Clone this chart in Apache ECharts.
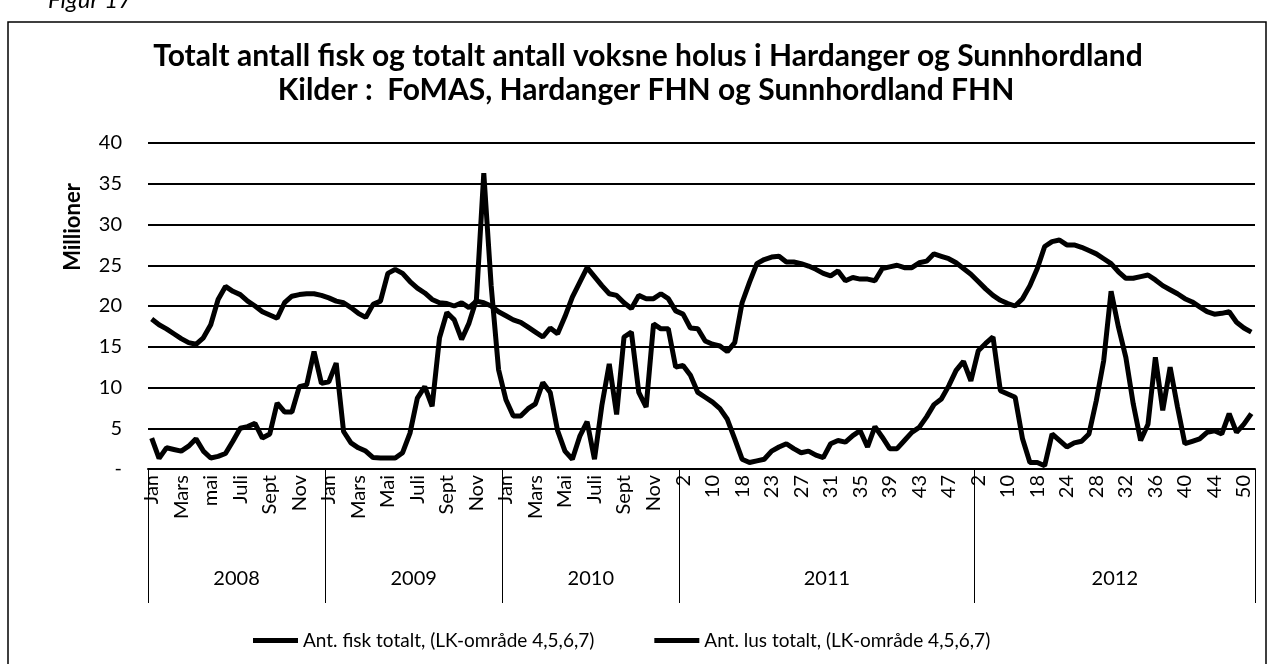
<!DOCTYPE html>
<html>
<head>
<meta charset="utf-8">
<script src="https://cdn.jsdelivr.net/npm/echarts@6/dist/echarts.min.js"></script>
<style>
  html, body { margin: 0; padding: 0; background: #fff; }
  #main { width: 1273px; height: 664px; }
</style>
</head>
<body>
<div id="main"></div>
<script>
// tick labels
var years = ['2008', '2009', '2010', '2011', '2012']
var months2008 = ['Jan', 'Feb', 'Mars', 'April', 'mai', 'Juni', 'Juli', 'Aug', 'Sept', 'Okt', 'Nov', 'Des']
var months = ['Jan', 'Feb', 'Mars', 'April', 'Mai', 'Juni', 'Juli', 'Aug', 'Sept', 'Okt', 'Nov', 'Des']
var weeks2011 = [2, 4, 6, 8, 10, 12, 14, 16, 18, 19, 20, 22, 23, 24, 25, 26, 27, 28, 29, 30, 31, 32, 33, 34, 35, 36, 37, 38, 39, 40, 41, 42, 43, 44, 45, 46, 47, 48, 49, 50]
var weeks2012 = [2, 4, 6, 8, 10, 12, 14, 16, 18, 20, 21, 22, 24, 25, 26, 27, 28, 29, 30, 31, 32, 33, 34, 35, 36, 37, 38, 39, 40, 41, 42, 43, 44, 45, 46, 48, 50, 52]

// Ant. fisk totalt (millioner)
var fisk = [
  18.4, 17.7, 17.2, 16.6, 16.0, 15.5, 15.3, 16.1, 17.7, 20.8, 22.4, 21.8, 21.4, 20.6, 20.0, 19.3, 18.9, 18.5, 20.4, 21.2, 21.4, 21.5, 21.5, 21.3,
  21.0, 20.6, 20.4, 19.8, 19.1, 18.6, 20.2, 20.6, 24.0, 24.5, 24.0, 23.0, 22.2, 21.6, 20.8, 20.4, 20.3, 20.0, 20.4, 19.8, 20.6, 20.4, 20.0, 19.3,
  18.8, 18.3, 18.0, 17.4, 16.8, 16.2, 17.3, 16.6, 18.7, 21.1, 22.9, 24.7, 23.6, 22.5, 21.5, 21.3, 20.4, 19.7, 21.3, 20.9, 20.9, 21.5, 20.9, 19.4,
  19.0, 17.3, 17.2, 15.7, 15.3, 15.1, 14.4, 15.5, 20.4, 22.9, 25.2, 25.7, 26.0, 26.1, 25.4, 25.4, 25.2, 24.9, 24.5, 24.0, 23.7, 24.3, 23.1, 23.5,
  23.3, 23.3, 23.1, 24.6, 24.8, 25.0, 24.7, 24.7, 25.3, 25.5, 26.4, 26.1, 25.8, 25.3, 24.6, 23.9,
  23.0, 22.1, 21.3, 20.7, 20.3, 20.0, 20.9, 22.5, 24.6, 27.3, 27.9, 28.1, 27.5, 27.5, 27.2, 26.8, 26.4, 25.8, 25.2, 24.2, 23.4, 23.4, 23.6, 23.8,
  23.2, 22.5, 22.0, 21.5, 20.9, 20.5, 19.9, 19.3, 19.0, 19.1, 19.3, 18.0, 17.3, 16.8
]
// Ant. lus totalt (millioner)
var lus = [
  3.8, 1.3, 2.6, 2.4, 2.2, 2.8, 3.7, 2.2, 1.35, 1.55, 1.9, 3.4, 5.0, 5.2, 5.6, 3.8, 4.3, 8.1, 7.0, 7.0, 10.1, 10.3, 14.4, 10.5,
  10.7, 13.0, 4.6, 3.2, 2.6, 2.2, 1.4, 1.35, 1.35, 1.35, 2.0, 4.4, 8.7, 10.1, 7.7, 16.1, 19.2, 18.3, 15.9, 17.9, 20.8, 36.3, 22.5, 12.2,
  8.5, 6.5, 6.5, 7.4, 8.0, 10.6, 9.4, 4.7, 2.2, 1.2, 4.0, 5.8, 1.2, 7.8, 12.9, 6.7, 16.2, 16.8, 9.4, 7.6, 17.8, 17.2, 17.2, 12.5,
  12.7, 11.5, 9.4, 8.8, 8.2, 7.4, 6.1, 3.7, 1.2, 0.8, 1.0, 1.2, 2.2, 2.7, 3.1, 2.5, 2.0, 2.2, 1.7, 1.4, 3.1, 3.5, 3.3, 4.1,
  4.7, 2.7, 5.2, 3.9, 2.5, 2.5, 3.5, 4.5, 5.1, 6.4, 7.9, 8.6, 10.2, 12.1, 13.2, 10.8,
  14.5, 15.4, 16.2, 9.6, 9.2, 8.8, 3.7, 0.8, 0.8, 0.4, 4.3, 3.5, 2.7, 3.2, 3.4, 4.3, 8.4, 13.3, 21.8, 17.4, 13.7, 8.0, 3.5, 5.5,
  13.7, 7.2, 12.5, 7.6, 3.1, 3.4, 3.7, 4.5, 4.7, 4.3, 6.8, 4.5, 5.5, 6.8
]

// two points per month in 2008-2010, weeks in 2011-2012
var tickLabels = []
;[months2008, months, months].forEach(function (m) {
  m.forEach(function (name) { tickLabels.push(name, name) })
})
weeks2011.forEach(function (w) { tickLabels.push(String(w)) })
weeks2012.forEach(function (w) { tickLabels.push(String(w)) })
var cats = tickLabels.map(function (t, i) { return i + ':' + t })

// start index of each year on the axis
var yearStart = [0, 24, 48, 72, 112, 150]
var yearMid = []
for (var k = 0; k < years.length; k++) yearMid.push((yearStart[k] + yearStart[k + 1]) / 2)

var font = 'Lato'
var chart = echarts.init(document.getElementById('main'))
window.addEventListener('resize', function () { chart.resize() })

var option = {
  backgroundColor: '#fff',
  animation: false,
  textStyle: { fontFamily: font, color: '#000' },
  legend: {
    left: 248,
    top: 626,
    itemWidth: 45,
    itemHeight: 5,
    itemGap: 60,
    icon: 'rect',
    textStyle: { fontFamily: font, fontSize: 19, color: '#000' },
    data: ['Ant. fisk totalt, (LK-område 4,5,6,7)', 'Ant. lus totalt, (LK-område 4,5,6,7)']
  },
  grid: { left: 148, right: 18, top: 143, bottom: 195, containLabel: false },
  xAxis: [
    {
      type: 'category',
      data: cats,
      boundaryGap: true,
      axisLine: { lineStyle: { color: '#000', width: 2 } },
      axisTick: { show: false },
      axisLabel: {
        interval: 3,
        rotate: 90,
        margin: 6,
        fontSize: 20,
        color: '#000',
        formatter: function (v) { return v.split(':')[1] }
      }
    },
    {
      type: 'value',
      min: 0,
      max: 150,
      position: 'bottom',
      axisLine: { show: false },
      splitLine: { show: false },
      axisTick: {
        show: true,
        length: 134,
        customValues: yearStart,
        lineStyle: { color: '#000', width: 1 }
      },
      axisLabel: {
        customValues: yearMid,
        margin: 100,
        fontSize: 20,
        color: '#000',
        formatter: function (v) { return years[yearMid.indexOf(v)] }
      }
    }
  ],
  yAxis: {
    type: 'value',
    min: 0,
    max: 40,
    interval: 5,
    axisLine: { show: false },
    axisTick: { show: false },
    splitLine: { lineStyle: { color: '#000', width: 2 } },
    axisLabel: {
      margin: 26,
      fontSize: 20,
      color: '#000',
      formatter: function (v) { return v === 0 ? '-' : v }
    }
  },
  graphic: [
    {
      type: 'rect',
      shape: { x: 8, y: 22, width: 1258, height: 700 },
      style: { fill: 'none', stroke: '#000', lineWidth: 1.5 },
      silent: true
    },
    {
      type: 'text',
      left: 48,
      top: -12,
      style: { text: 'Figur 17', font: 'italic 24px Lato', fill: '#000' }
    },
    {
      type: 'text',
      x: 648,
      y: 56,
      style: { text: 'Totalt antall fisk og totalt antall voksne holus i Hardanger og Sunnhordland', font: 'bold 30px Lato', fill: '#000', align: 'center', verticalAlign: 'middle' }
    },
    {
      type: 'text',
      x: 646,
      y: 90,
      style: { text: 'Kilder :  FoMAS, Hardanger FHN og Sunnhordland FHN', font: 'bold 30px Lato', fill: '#000', align: 'center', verticalAlign: 'middle' }
    },
    {
      type: 'text',
      x: 73,
      y: 227,
      rotation: Math.PI / 2,
      style: { text: 'Millioner', font: 'bold 22px Lato', fill: '#000', align: 'center', verticalAlign: 'middle' }
    }
  ],
  series: [
    {
      name: 'Ant. fisk totalt, (LK-område 4,5,6,7)',
      type: 'line',
      data: fisk,
      showSymbol: false,
      symbol: 'none',
      itemStyle: { color: '#000' },
      lineStyle: { color: '#000', width: 5 }
    },
    {
      name: 'Ant. lus totalt, (LK-område 4,5,6,7)',
      type: 'line',
      data: lus,
      showSymbol: false,
      symbol: 'none',
      itemStyle: { color: '#000' },
      lineStyle: { color: '#000', width: 5 }
    }
  ]
}
chart.setOption(option)
</script>
</body>
</html>
